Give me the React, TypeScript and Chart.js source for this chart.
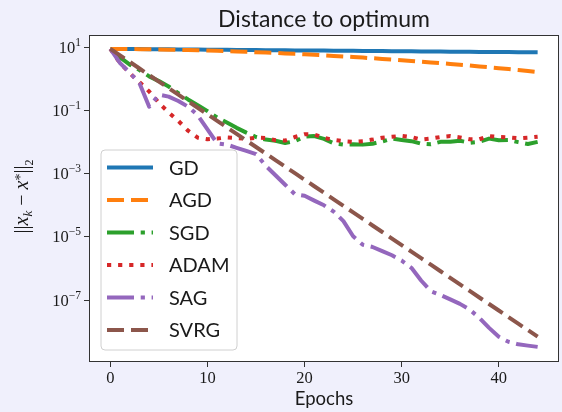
import React, { useEffect, useRef } from "react";
import { Chart, registerables } from "chart.js";

Chart.register(...registerables);

// ---------- data ----------
const EPOCHS = [
  0, 1, 2, 3, 4, 5, 6, 7, 8, 9, 10, 11, 12, 13, 14, 15, 16, 17, 18, 19, 20, 21,
  22, 23, 24, 25, 26, 27, 28, 29, 30, 31, 32, 33, 34, 35, 36, 37, 38, 39, 40,
  41, 42, 43, 44,
];

const GD = [
  8.91, 8.86, 8.81, 8.76, 8.71, 8.66, 8.61, 8.56, 8.51, 8.46, 8.41, 8.36, 8.31,
  8.27, 8.22, 8.17, 8.13, 8.08, 8.03, 7.99, 7.94, 7.9, 7.85, 7.81, 7.76, 7.72,
  7.67, 7.63, 7.59, 7.54, 7.5, 7.46, 7.41, 7.37, 7.33, 7.29, 7.25, 7.21, 7.16,
  7.12, 7.08, 7.04, 7.0, 6.96, 6.92,
];

const AGD = [
  8.91, 8.87, 8.81, 8.73, 8.65, 8.55, 8.43, 8.31, 8.18, 8.04, 7.88, 7.72, 7.55,
  7.38, 7.19, 7.0, 6.81, 6.61, 6.4, 6.2, 5.99, 5.78, 5.56, 5.35, 5.14, 4.93,
  4.72, 4.51, 4.3, 4.1, 3.9, 3.71, 3.52, 3.33, 3.15, 2.97, 2.8, 2.64, 2.48,
  2.33, 2.18, 2.04, 1.91, 1.78, 1.66,
];

const SGD = [
  8.91, 4.79, 2.82, 1.91, 1.2, 0.851, 0.575, 0.355, 0.224, 0.148, 0.0955,
  0.0603, 0.0417, 0.0282, 0.02, 0.0145, 0.012, 0.011, 0.00933, 0.0107, 0.0148,
  0.0155, 0.0126, 0.00912, 0.00832, 0.00851, 0.00832, 0.00891, 0.0105, 0.0129,
  0.0117, 0.0107, 0.00891, 0.00851, 0.0102, 0.0102, 0.011, 0.00955, 0.0102,
  0.0129, 0.0115, 0.0117, 0.01, 0.00871, 0.0102,
];

const ADAM = [
  8.91, 3.16, 1.51, 0.794, 0.398, 0.174, 0.0871, 0.0468, 0.0229, 0.0138,
  0.0123, 0.0129, 0.0141, 0.0135, 0.0126, 0.0138, 0.0135, 0.0115, 0.0112,
  0.0145, 0.0178, 0.0174, 0.0135, 0.0117, 0.0107, 0.0102, 0.0107, 0.012,
  0.0138, 0.0148, 0.0158, 0.0145, 0.012, 0.0129, 0.0145, 0.0155, 0.0141,
  0.0123, 0.0123, 0.0155, 0.0145, 0.0141, 0.0132, 0.0138, 0.0148,
];

const SAG = [
  8.91, 3.16, 1.58, 0.724, 0.132, 0.316, 0.275, 0.2, 0.132, 0.0708, 0.0251,
  0.00912, 0.00832, 0.00661, 0.00525, 0.00417, 0.00178, 8.91e-4, 4.47e-4,
  2.24e-4, 2.0e-4, 1.41e-4, 1.0e-4, 6.31e-5, 3.16e-5, 1.05e-5, 5.62e-6,
  4.79e-6, 3.55e-6, 2.63e-6, 1.78e-6, 1.05e-6, 4.17e-7, 1.91e-7, 1.45e-7,
  1.05e-7, 7.59e-8, 5.01e-8, 2.75e-8, 1.32e-8, 6.92e-9, 4.79e-9, 3.98e-9,
  3.63e-9, 3.31e-9,
];

const SVRG = [
  8.91, 5.53, 3.44, 2.13, 1.32, 0.822, 0.511, 0.317, 0.197, 0.122, 0.0759,
  0.0471, 0.0292, 0.0182, 0.0113, 0.007, 0.00435, 0.0027, 0.00167, 0.00104,
  6.46e-4, 4.01e-4, 2.49e-4, 1.55e-4, 9.59e-5, 5.96e-5, 3.7e-5, 2.3e-5,
  1.43e-5, 8.85e-6, 5.5e-6, 3.41e-6, 2.12e-6, 1.32e-6, 8.17e-7, 5.07e-7,
  3.15e-7, 1.95e-7, 1.21e-7, 7.53e-8, 4.68e-8, 2.9e-8, 1.8e-8, 1.12e-8,
  6.95e-9,
];

const SERIES_NAMES = ["GD", "AGD", "SGD", "ADAM", "SAG", "SVRG"];
const SERIES_VALUES = [GD, AGD, SGD, ADAM, SAG, SVRG];
const SERIES_COLORS = ["#1f77b4", "#ff7f0e", "#2ca02c", "#d62728", "#9467bd", "#8c564b"];
const SERIES_DASHES: number[][] = [
  [],
  [17, 7],
  [27, 6.7, 4.2, 6.7],
  [4.2, 6.9],
  [27, 6.7, 4.2, 6.7],
  [17, 7],
];

const X_TICKS = [0, 10, 20, 30, 40];
const Y_TICKS = [1e1, 1e-1, 1e-3, 1e-5, 1e-7];
const Y_TICK_EXPONENTS = ["1", "\u22121", "\u22123", "\u22125", "\u22127"];
const TITLE = "Distance to optimum";
const X_LABEL = "Epochs";

// ---------- styling ----------
const PAGE_BG = "rgb(240,240,252)";
const TEXT = "#1a1a1a";
const SPINE = "#333333";
const SANS = "Lato";
const SERIF = "'Liberation Serif'";

type Run = { t: string; font: string; dy?: number };

function drawRuns(ctx: CanvasRenderingContext2D, runs: Run[], x: number, y: number, align: "left" | "center" | "right") {
  let total = 0;
  const widths = runs.map((r) => {
    ctx.font = r.font;
    const w = ctx.measureText(r.t).width;
    total += w;
    return w;
  });
  let cx = align === "left" ? x : align === "center" ? x - total / 2 : x - total;
  ctx.textAlign = "left";
  runs.forEach((r, i) => {
    ctx.font = r.font;
    ctx.fillText(r.t, cx, y + (r.dy || 0));
    cx += widths[i];
  });
}

const decorPlugin = {
  id: "decor",
  beforeDraw(chart: any) {
    const { ctx, chartArea: a } = chart;
    ctx.save();
    ctx.fillStyle = "#ffffff";
    ctx.fillRect(a.left, a.top, a.right - a.left, a.bottom - a.top);
    ctx.restore();
  },
  afterDraw(chart: any) {
    const { ctx, chartArea: a } = chart;
    const yScale = chart.scales.y;
    ctx.save();

    // spines
    ctx.strokeStyle = SPINE;
    ctx.lineWidth = 1;
    ctx.strokeRect(Math.round(a.left) + 0.5, Math.round(a.top) + 0.5, Math.round(a.right - a.left) - 1, Math.round(a.bottom - a.top) - 1);

    // y tick labels (10^n)
    ctx.fillStyle = TEXT;
    ctx.textBaseline = "alphabetic";
    Y_TICKS.forEach((v, i) => {
      const py = yScale.getPixelForValue(v);
      drawRuns(
        ctx,
        [
          { t: "10", font: `16.5px ${SERIF}` },
          { t: Y_TICK_EXPONENTS[i], font: `11.5px ${SERIF}`, dy: -7 },
        ],
        a.left - 8,
        py + 5.5,
        "right"
      );
    });

    // title
    ctx.font = `23px ${SANS}`;
    ctx.textAlign = "center";
    ctx.fillText(TITLE, (a.left + a.right) / 2, 26.5);

    // x label
    ctx.font = `18.5px ${SANS}`;
    ctx.fillText(X_LABEL, (a.left + a.right) / 2, 405);

    // y label: ||x_k - x^*||_2
    ctx.save();
    ctx.translate(27.5, 196.5);
    ctx.rotate(-Math.PI / 2);
    drawRuns(
      ctx,
      [
        { t: "||", font: `20px ${SERIF}` },
        { t: "x", font: `italic 20px ${SERIF}` },
        { t: "k", font: `italic 13px ${SERIF}`, dy: 4.5 },
        { t: " \u2212 ", font: `20px ${SERIF}` },
        { t: "x", font: `italic 20px ${SERIF}` },
        { t: "*", font: `14px ${SERIF}`, dy: -3 },
        { t: "||", font: `20px ${SERIF}` },
        { t: "2", font: `12px ${SERIF}`, dy: 5 },
      ],
      0,
      0,
      "center"
    );
    ctx.restore();

    // legend
    const bx = 101, by = 150, bw = 136, bh = 200, r = 4;
    ctx.beginPath();
    ctx.moveTo(bx + r, by);
    ctx.arcTo(bx + bw, by, bx + bw, by + bh, r);
    ctx.arcTo(bx + bw, by + bh, bx, by + bh, r);
    ctx.arcTo(bx, by + bh, bx, by, r);
    ctx.arcTo(bx, by, bx + bw, by, r);
    ctx.closePath();
    ctx.fillStyle = "rgba(255,255,255,0.8)";
    ctx.fill();
    ctx.strokeStyle = "#d0d0d0";
    ctx.lineWidth = 1;
    ctx.stroke();

    SERIES_NAMES.forEach((name, i) => {
      const ry = 167.5 + i * 32.5;
      ctx.beginPath();
      ctx.setLineDash(SERIES_DASHES[i]);
      ctx.lineDashOffset = 0;
      ctx.strokeStyle = SERIES_COLORS[i];
      ctx.lineWidth = 4;
      ctx.lineCap = "butt";
      ctx.moveTo(107, ry);
      ctx.lineTo(153, ry);
      ctx.stroke();
      ctx.setLineDash([]);
      ctx.fillStyle = TEXT;
      ctx.font = `20px ${SANS}`;
      ctx.textAlign = "left";
      ctx.textBaseline = "middle";
      ctx.fillText(name, 169, ry + 1);
    });

    ctx.restore();
  },
};

export default function App() {
  const canvasRef = useRef<HTMLCanvasElement | null>(null);

  useEffect(() => {
    const canvas = canvasRef.current;
    if (!canvas) return;
    const datasets = SERIES_NAMES.map((name, i) => ({
      label: name,
      data: EPOCHS.map((e, j) => ({ x: e, y: SERIES_VALUES[i][j] })),
      borderColor: SERIES_COLORS[i],
      backgroundColor: SERIES_COLORS[i],
      borderWidth: 4,
      borderDash: SERIES_DASHES[i],
      borderCapStyle: "butt" as const,
      borderJoinStyle: "round" as const,
      pointRadius: 0,
      tension: 0,
      fill: false,
      order: SERIES_NAMES.length - i,
    }));

    const chart = new Chart(canvas, {
      type: "line",
      data: { datasets },
      options: {
        animation: false,
        responsive: false,
        devicePixelRatio: 1,
        layout: { padding: { left: 0, right: 3, top: 35, bottom: 0 } },
        plugins: { legend: { display: false }, title: { display: false }, tooltip: { enabled: false } },
        scales: {
          x: {
            type: "linear",
            min: -2.2,
            max: 46.2,
            bounds: "data",
            afterBuildTicks: (s: any) => {
              s.ticks = X_TICKS.map((v) => ({ value: v }));
            },
            afterFit: (s: any) => {
              s.height = 50;
            },
            grid: { drawOnChartArea: false, drawTicks: true, tickLength: 5, tickColor: SPINE, lineWidth: 1 },
            border: { display: false },
            ticks: {
              font: { family: "Liberation Serif", size: 16.5 },
              color: TEXT,
              padding: 2,
              maxRotation: 0,
              autoSkip: false,
              callback: (v: any) => String(v),
            },
          },
          y: {
            type: "logarithmic",
            min: 1.1e-9,
            max: 24.5,
            bounds: "data",
            afterBuildTicks: (s: any) => {
              s.ticks = Y_TICKS.map((v) => ({ value: v }));
            },
            afterFit: (s: any) => {
              s.width = 89;
            },
            grid: { drawOnChartArea: false, drawTicks: true, tickLength: 5, tickColor: SPINE, lineWidth: 1 },
            border: { display: false },
            ticks: {
              autoSkip: false,
              callback: () => "",
            },
          },
        },
      },
      plugins: [decorPlugin],
    });

    return () => chart.destroy();
  }, []);

  return (
    <div style={{ position: "fixed", left: 0, top: 0, width: 562, height: 412, background: PAGE_BG }}>
      <canvas ref={canvasRef} width={562} height={412} style={{ display: "block", width: 562, height: 412 }} />
    </div>
  );
}
